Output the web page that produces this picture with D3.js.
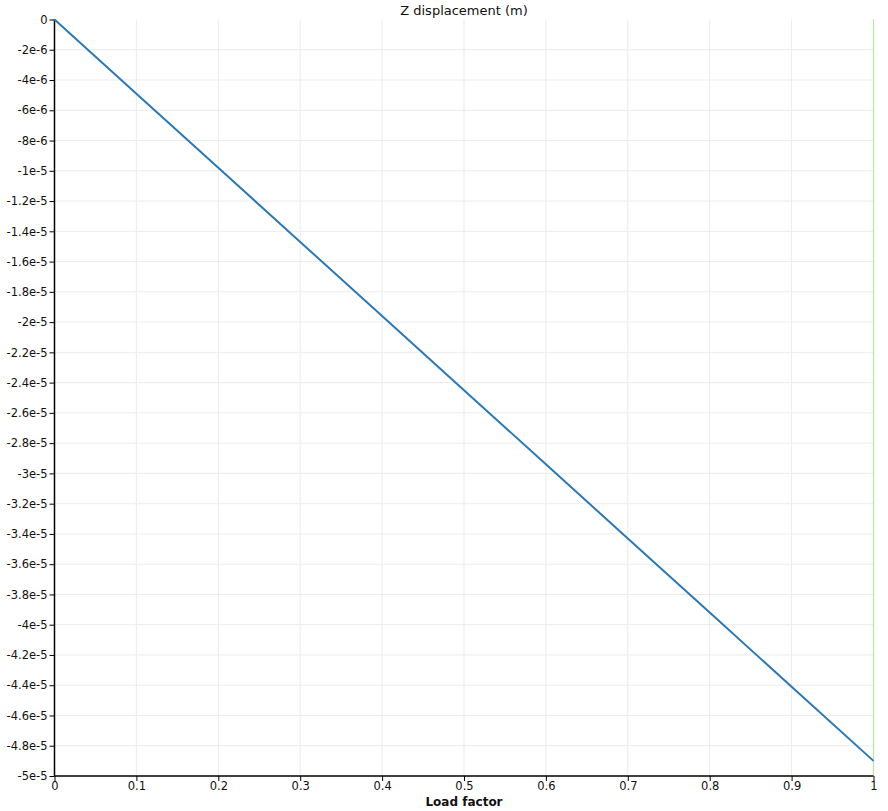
<!DOCTYPE html>
<html><head><meta charset="utf-8">
<script src="https://cdn.jsdelivr.net/npm/d3@7"></script>
<style>body{margin:0;background:#fff}svg{display:block}text{font-family:"DejaVu Sans",sans-serif}</style>
</head><body><svg id="c" width="888" height="811"></svg>
<script>
const loadFactor = [0, 0.1, 0.2, 0.3, 0.4, 0.5, 0.6, 0.7, 0.8, 0.9, 1];
const zDisp = [0, -4.9e-6, -9.8e-6, -1.47e-5, -1.96e-5, -2.45e-5, -2.94e-5, -3.43e-5, -3.92e-5, -4.41e-5, -4.9e-5];
const xTicks = [0, 0.1, 0.2, 0.3, 0.4, 0.5, 0.6, 0.7, 0.8, 0.9, 1];
const yTicks = [0,-2e-6,-4e-6,-6e-6,-8e-6,-1e-5,-1.2e-5,-1.4e-5,-1.6e-5,-1.8e-5,-2e-5,-2.2e-5,-2.4e-5,-2.6e-5,-2.8e-5,-3e-5,-3.2e-5,-3.4e-5,-3.6e-5,-3.8e-5,-4e-5,-4.2e-5,-4.4e-5,-4.6e-5,-4.8e-5,-5e-5];
const yTickLabels = ["0","-2e-6","-4e-6","-6e-6","-8e-6","-1e-5","-1.2e-5","-1.4e-5","-1.6e-5","-1.8e-5","-2e-5","-2.2e-5","-2.4e-5","-2.6e-5","-2.8e-5","-3e-5","-3.2e-5","-3.4e-5","-3.6e-5","-3.8e-5","-4e-5","-4.2e-5","-4.4e-5","-4.6e-5","-4.8e-5","-5e-5"];
const title = "Z displacement (m)";
const xLabel = "Load factor";

const svg = d3.select("#c");
const L = 54.5, R = 873.5, T = 19.5, B = 776;
const x = d3.scaleLinear().domain([0, 1]).range([L, R]);
const y = d3.scaleLinear().domain([0, -5e-5]).range([T, B]);

// grid
svg.append("g").selectAll("line").data(xTicks.slice(1)).join("line")
  .attr("x1", d => x(d)).attr("x2", d => x(d)).attr("y1", T).attr("y2", B)
  .attr("stroke", "#ececec").attr("stroke-width", 1);
svg.append("g").selectAll("line").data(yTicks.slice(1, -1)).join("line")
  .attr("x1", L).attr("x2", R).attr("y1", d => y(d)).attr("y2", d => y(d))
  .attr("stroke", "#ececec").attr("stroke-width", 1);

// green marker at x=1
svg.append("line").attr("x1", x(1)).attr("x2", x(1)).attr("y1", T).attr("y2", B)
  .attr("stroke", "#b7e3a6").attr("stroke-width", 1.2);

// axes
const yAxis = d3.axisLeft(y).tickValues(yTicks).tickFormat((d, i) => yTickLabels[i]).tickSize(5).tickPadding(2);
const gy = svg.append("g").attr("transform", `translate(${L},0)`).call(yAxis);
const xAxis = d3.axisBottom(x).tickValues(xTicks).tickFormat(d3.format("")).tickSize(5).tickPadding(1);
const gx = svg.append("g").attr("transform", `translate(0,${B})`).call(xAxis);
[gx, gy].forEach(g => {
  g.select(".domain").attr("stroke", "#000").attr("stroke-width", 1.5);
  g.selectAll(".tick line").attr("stroke", "#000");
  g.selectAll("text").attr("font-family", "DejaVu Sans, sans-serif").attr("font-size", 11.5).attr("fill", "#111");
});
gx.select(".domain").attr("d", `M${L},0H${R}`);
gy.select(".domain").attr("d", `M0,${T}V${B}`);

// line
svg.append("path").datum(loadFactor.map((d, i) => [d, zDisp[i]]))
  .attr("d", d3.line().x(d => x(d[0])).y(d => y(d[1])))
  .attr("fill", "none").attr("stroke", "#2a78b6").attr("stroke-width", 2);

svg.append("text").attr("x", (L + R) / 2).attr("y", 15).attr("text-anchor", "middle")
  .attr("font-size", 13).attr("fill", "#111").text(title);
svg.append("text").attr("x", (L + R) / 2).attr("y", 806).attr("text-anchor", "middle")
  .attr("font-size", 12).attr("font-weight", "bold").attr("fill", "#111").text(xLabel);
</script></body></html>
